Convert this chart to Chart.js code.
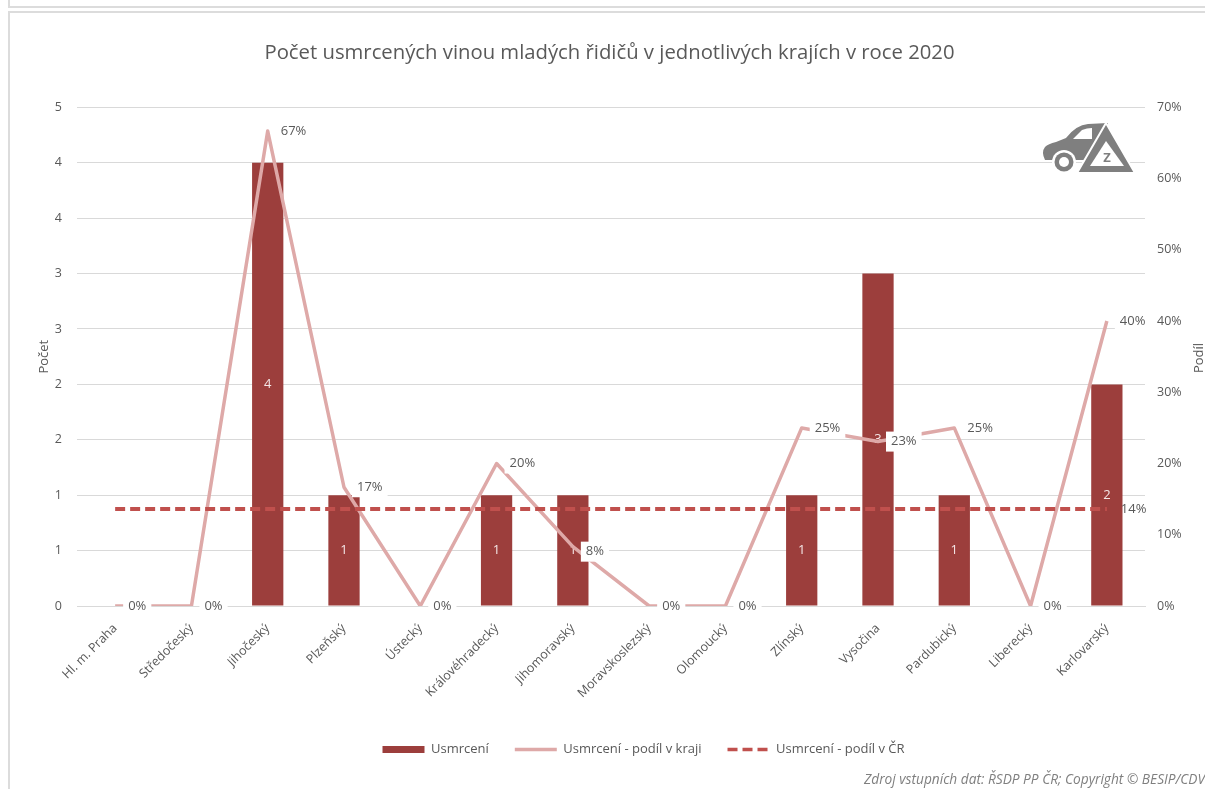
<!DOCTYPE html>
<html>
<head>
<meta charset="utf-8">
<title>Počet usmrcených</title>
<script src="https://cdn.jsdelivr.net/npm/chart.js@4"></script>
<style>
	html, body { margin: 0; padding: 0; background: #fff; overflow: hidden; width: 1205px; height: 789px; }
	#topPanel { position: absolute; left: 8px; top: -10px; width: 1300px; height: 14px; border: 2px solid #dcdcdc; }
	#panel { position: absolute; left: 8px; top: 11px; width: 1300px; height: 900px; border: 2px solid #dcdcdc; }
	#chartCanvas { position: absolute; left: 0; top: 0; }
	#logo { position: absolute; left: 1040px; top: 120px; }
	#source { position: absolute; left: 864px; top: 769px; white-space: nowrap; font: italic 13.7px "Open Sans", sans-serif; color: #7f7f7f; }
</style>
</head>
<body>
<div id="topPanel"></div>
<div id="panel"></div>
<canvas id="chartCanvas" width="1205" height="789"></canvas>
<svg id="logo" width="100" height="56" viewBox="0 0 100 56">
	<path d="M5,40 Q1,32 5,27 Q8,24 16,22 L26,18 Q36,5 48,4 L68,3 L68,40 Z" fill="#7f7f7f"/>
	<path d="M33,19 L42,10 Q47,8 52,8 L52,19 Z" fill="#fff"/>
	<circle cx="24" cy="42" r="12" fill="#fff"/>
	<circle cx="24" cy="42" r="9.5" fill="#7f7f7f"/>
	<circle cx="24" cy="42" r="5" fill="#fff"/>
	<path d="M66,3 L95,53 L37,53 Z" fill="#7f7f7f" stroke="#fff" stroke-width="2"/>
	<path d="M66,21 L84,46 L50,46 Z" fill="#fff"/>
	<text x="67" y="42" text-anchor="middle" font-family="Open Sans" font-weight="700" font-size="13" fill="#7f7f7f">Z</text>
</svg>
<div id="source">Zdroj vstupních dat: ŘSDP PP ČR; Copyright © BESIP/CDV</div>
<script>
var FONT = '"Open Sans", sans-serif';
var TEXT_COLOR = '#595959';

var regions = ['Hl. m. Praha', 'Středočeský', 'Jihočeský', 'Plzeňský', 'Ústecký', 'Královéhradecký', 'Jihomoravský',
	'Moravskoslezský', 'Olomoucký', 'Zlínský', 'Vysočina', 'Pardubický', 'Liberecký', 'Karlovarský'];
var deaths = [0, 0, 4, 1, 0, 1, 1, 0, 0, 1, 3, 1, 0, 2];
var shareRegion = [0, 0, 66.67, 16.67, 0, 20, 8.33, 0, 0, 25, 23.08, 25, 0, 40];
var shareCountry = [13.6, 13.6, 13.6, 13.6, 13.6, 13.6, 13.6, 13.6, 13.6, 13.6, 13.6, 13.6, 13.6, 13.6];
var countTickLabels = ['0', '1', '1', '2', '2', '3', '3', '4', '4', '5'];

// white text in the middle of the bars, under the lines
var barLabels = {
	id: 'barLabels',
	afterDatasetDraw: function(chart, args) {
		if (args.index !== 0) return;
		var ctx = chart.ctx;
		ctx.save();
		ctx.font = '13px ' + FONT;
		ctx.fillStyle = '#f4e6e6';
		ctx.textAlign = 'center';
		ctx.textBaseline = 'middle';
		args.meta.data.forEach(function(bar, i) {
			if (deaths[i] > 0) ctx.fillText(deaths[i], bar.x, (bar.y + bar.base) / 2);
		});
		ctx.restore();
	}
};

// percent labels right of the points, on white boxes
var shareLabels = {
	id: 'shareLabels',
	afterDatasetsDraw: function(chart) {
		var ctx = chart.ctx;
		function label(text, x, y) {
			var w = ctx.measureText(text).width;
			ctx.fillStyle = '#fff';
			ctx.fillRect(x - 5, y - 10, w + 10, 20);
			ctx.fillStyle = TEXT_COLOR;
			ctx.fillText(text, x, y);
		}
		ctx.save();
		ctx.font = '13px ' + FONT;
		ctx.textAlign = 'left';
		ctx.textBaseline = 'middle';
		chart.getDatasetMeta(1).data.forEach(function(pt, i) {
			label(Math.round(shareRegion[i]) + '%', pt.x + 13, pt.y + (i === 6 ? 5 : 0));
		});
		// the national label has no box, it would cut into the last bar
		var last = chart.getDatasetMeta(2).data[13];
		ctx.fillStyle = TEXT_COLOR;
		ctx.fillText(Math.round(shareCountry[13]) + '%', last.x + 14, last.y);
		// right axis title reads bottom to top, which the scale title can't do
		ctx.translate(1199, 358);
		ctx.rotate(-Math.PI / 2);
		ctx.textAlign = 'center';
		ctx.fillText('Podíl', 0, 0);
		ctx.restore();
	}
};

// legend sits right of the chart centre in the original
var moveLegend = {
	id: 'moveLegend',
	afterLayout: function(chart) {
		chart.legend.left += 34;
		chart.legend.right += 34;
	}
};

new Chart(document.getElementById('chartCanvas'), {
	data: {
		labels: regions,
		datasets: [
			{
				type: 'bar',
				label: 'Usmrcení',
				data: deaths,
				yAxisID: 'y',
				order: 3,
				backgroundColor: '#9c3e3c',
				barPercentage: 0.41,
				categoryPercentage: 1
			},
			{
				type: 'line',
				label: 'Usmrcení - podíl v kraji',
				data: shareRegion,
				yAxisID: 'y1',
				order: 2,
				borderColor: '#dea9a8',
				backgroundColor: '#dea9a8',
				borderWidth: 3.5,
				borderJoinStyle: 'round',
				pointRadius: 0,
				tension: 0,
				fill: false
			},
			{
				type: 'line',
				label: 'Usmrcení - podíl v ČR',
				data: shareCountry,
				yAxisID: 'y1',
				order: 1,
				borderColor: '#c0504d',
				backgroundColor: '#c0504d',
				borderWidth: 4,
				borderDash: [10, 5],
				pointRadius: 0,
				tension: 0,
				fill: false
			}
		]
	},
	options: {
		responsive: false,
		animation: false,
		layout: { padding: { left: 14, bottom: 23 } },
		plugins: {
			title: {
				display: true,
				text: 'Počet usmrcených vinou mladých řidičů v jednotlivých krajích v roce 2020',
				color: TEXT_COLOR,
				font: { family: FONT, size: 20.3, weight: 'normal' },
				padding: { top: 41, bottom: 42 }
			},
			legend: {
				position: 'bottom',
				labels: {
					usePointStyle: true,
					pointStyleWidth: 42,
					padding: 26,
					color: TEXT_COLOR,
					font: { family: FONT, size: 13 },
					generateLabels: function(chart) {
						return chart.data.datasets.map(function(ds, i) {
							return {
								text: ds.label,
								datasetIndex: i,
								fontColor: TEXT_COLOR,
								pointStyle: 'line',
								strokeStyle: ds.type === 'bar' ? ds.backgroundColor : ds.borderColor,
								lineWidth: ds.type === 'bar' ? 7 : 3.5,
								lineDash: ds.borderDash || []
							};
						});
					}
				}
			},
			tooltip: { enabled: false }
		},
		scales: {
			x: {
				grid: { display: false },
				border: { color: '#d9d9d9' },
				ticks: {
					color: TEXT_COLOR,
					font: { family: FONT, size: 12.5 },
					autoSkip: false,
					minRotation: 45,
					maxRotation: 45,
					padding: 7
				},
				afterFit: function(scale) { scale.height = 111; }
			},
			y: {
				position: 'left',
				min: 0,
				max: 4.5,
				border: { display: false },
				grid: { color: '#d9d9d9', drawTicks: false },
				ticks: {
					stepSize: 0.5,
					color: TEXT_COLOR,
					font: { family: FONT, size: 12.5 },
					padding: 15,
					callback: function(value, i) { return countTickLabels[i]; }
				},
				title: {
					display: true,
					text: 'Počet',
					color: TEXT_COLOR,
					font: { family: FONT, size: 13 },
					padding: { top: 22, bottom: 0 }
				},
				afterFit: function(scale) { scale.width = 63; }
			},
			y1: {
				position: 'right',
				min: 0,
				max: 70,
				border: { display: false },
				grid: { display: false, drawTicks: false },
				ticks: {
					stepSize: 10,
					color: TEXT_COLOR,
					font: { family: FONT, size: 12.5 },
					padding: 12,
					callback: function(value) { return value + '%'; }
				},
				afterFit: function(scale) { scale.width = 60; }
			}
		}
	},
	plugins: [barLabels, shareLabels, moveLegend]
});
</script>
</body>
</html>
